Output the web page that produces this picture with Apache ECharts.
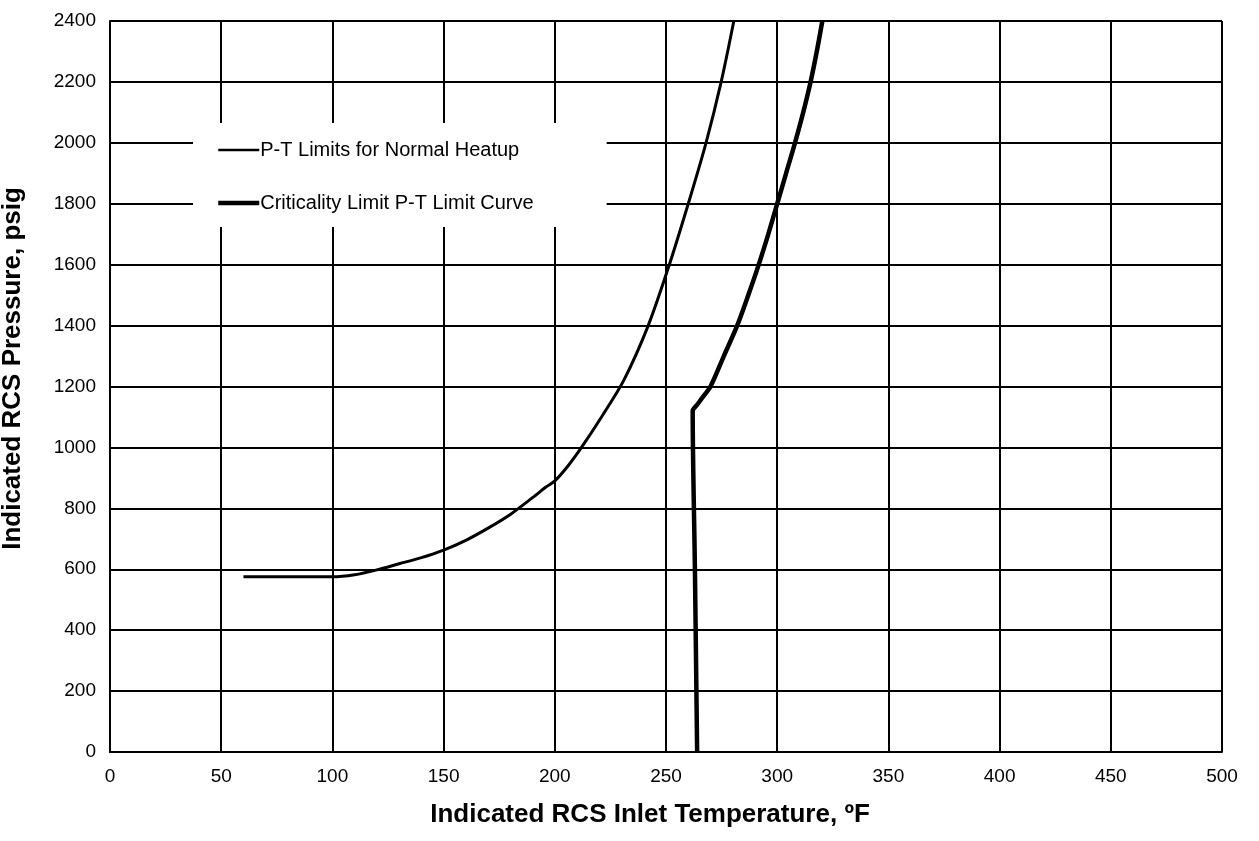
<!DOCTYPE html>
<html>
<head>
<meta charset="utf-8">
<script src="https://cdn.jsdelivr.net/npm/echarts@6/dist/echarts.min.js"></script>
<style>
  html, body { margin: 0; padding: 0; background: #fff; }
  #main { width: 1259px; height: 841px; }
</style>
</head>
<body>
<div id="main"></div>
<script>
// P-T limit curves
const heatupTemp = [60, 100, 110, 120, 130, 140, 150, 160, 170, 180, 190, 196, 200, 206, 212, 221, 231, 242, 251.5, 260, 268, 274.8, 280.5];
const heatupPress = [575, 575, 582, 598, 618, 638, 663, 695, 735, 780, 835, 870, 890, 940, 1000, 1100, 1220, 1400, 1600, 1800, 2000, 2200, 2400];

const critTemp = [264, 263, 262, 264, 266, 270, 276, 282, 287, 291.7, 296, 300, 304, 308, 311.7, 315, 317.8, 320.3];
const critPress = [0, 600, 1120, 1140, 1160, 1200, 1300, 1400, 1500, 1600, 1700, 1800, 1900, 2000, 2100, 2200, 2300, 2400];

const seriesNames = ['P-T Limits for Normal Heatup', 'Criticality Limit P-T Limit Curve'];

const pairs = (xs, ys) => xs.map((x, i) => [x, ys[i]]);

let myChart = echarts.init(document.getElementById('main'));
const font = 'Liberation Sans, Arial, sans-serif';
let option = {
  animation: false,
  backgroundColor: '#fff',
  grid: { left: 110, right: 37, top: 21, bottom: 89, containLabel: false, outerBoundsMode: 'none' },
  legend: {
    left: 193,
    top: 123,
    orient: 'vertical',
    backgroundColor: '#fff',
    padding: [17, 73, 14, 23],
    itemWidth: 41,
    itemHeight: 14,
    itemGap: 33,
    itemStyle: { opacity: 0 },
    textStyle: { fontFamily: font, fontSize: 20, color: '#000', padding: [0, 0, 0, -4] },
    data: [
      { name: seriesNames[0], lineStyle: { width: 2.5 } },
      { name: seriesNames[1], lineStyle: { width: 4.5 } }
    ]
  },
  xAxis: {
    type: 'value',
    min: 0, max: 500, interval: 50,
    name: 'Indicated RCS Inlet Temperature, \u00baF',
    nameLocation: 'middle',
    nameGap: 50,
    nameTextStyle: { fontFamily: font, fontSize: 26, fontWeight: 'bold', color: '#000', padding: [0, 32, 0, 0] },
    axisLine: { show: true, lineStyle: { color: '#000', width: 2 } },
    axisTick: { show: false },
    axisLabel: { fontFamily: font, fontSize: 19, color: '#000', margin: 15, formatter: v => String(v) },
    splitLine: { show: true, lineStyle: { color: '#000', width: 2 } }
  },
  yAxis: {
    type: 'value',
    min: 0, max: 2400, interval: 200,
    name: 'Indicated RCS Pressure, psig',
    nameLocation: 'middle',
    nameGap: 84,
    nameTextStyle: { fontFamily: font, fontSize: 26, fontWeight: 'bold', color: '#000', padding: [0, 0, 0, 36] },
    axisLine: { show: true, lineStyle: { color: '#000', width: 2 } },
    axisTick: { show: false },
    axisLabel: { fontFamily: font, fontSize: 19, color: '#000', margin: 14, formatter: v => String(v) },
    splitLine: { show: true, lineStyle: { color: '#000', width: 2 } }
  },
  series: [
    {
      name: seriesNames[0],
      type: 'line',
      symbol: 'none',
      smooth: 0.3,
      lineStyle: { color: '#000', width: 3 },
      itemStyle: { color: '#000' },
      data: pairs(heatupTemp, heatupPress)
    },
    {
      name: seriesNames[1],
      type: 'line',
      symbol: 'none',
      smooth: 0.3,
      lineStyle: { color: '#000', width: 4.5 },
      itemStyle: { color: '#000' },
      data: pairs(critTemp, critPress)
    }
  ]
};
myChart.setOption(option);
</script>
</body>
</html>
